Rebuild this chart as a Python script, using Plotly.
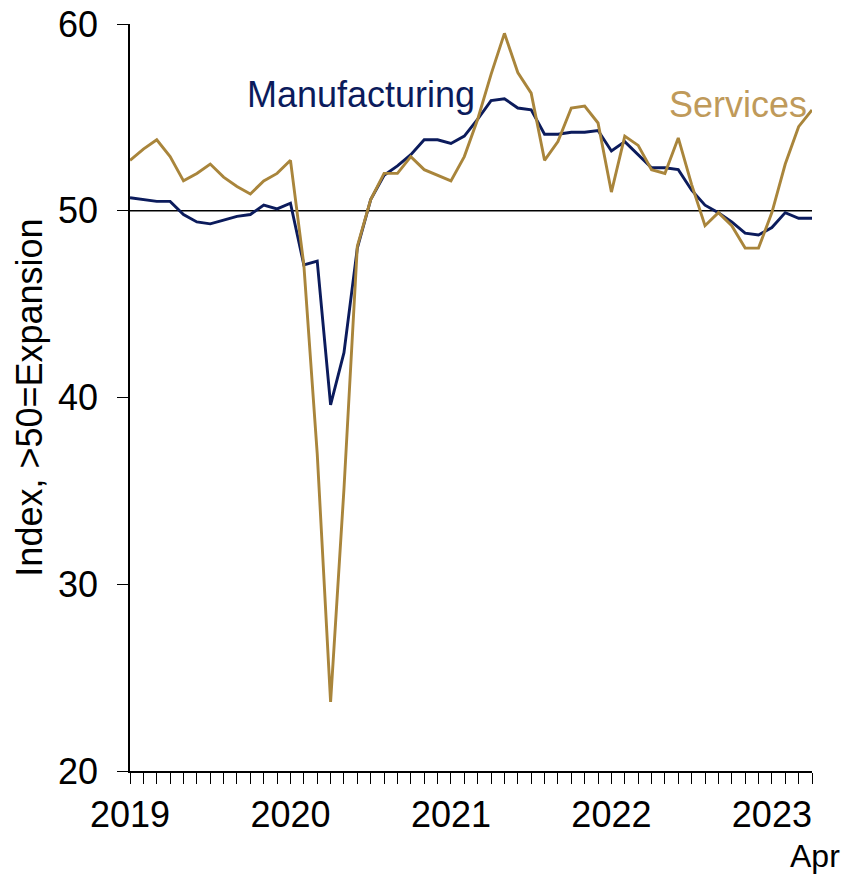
import plotly.graph_objects as go

months = [f"{y}-{m:02d}" for y in range(2019, 2024) for m in range(1, 13)][:52]

manufacturing = [
    50.7, 50.6, 50.5, 50.5, 49.8, 49.4, 49.3, 49.5, 49.7, 49.8, 50.3, 50.1,
    50.4, 47.1, 47.3, 39.6, 42.4, 48.0, 50.6, 51.9, 52.4, 53.0, 53.8, 53.8,
    53.6, 54.0, 54.9, 55.9, 56.0, 55.5, 55.4, 54.1, 54.1, 54.2, 54.2, 54.3,
    53.2, 53.7, 53.0, 52.3, 52.3, 52.2, 51.1, 50.3, 49.9, 49.4, 48.8, 48.7,
    49.1, 49.9, 49.6, 49.6,
]

services = [
    52.7, 53.3, 53.8, 52.9, 51.6, 52.0, 52.5, 51.8, 51.3, 50.9, 51.6, 52.0,
    52.7, 47.1, 37.0, 23.7, 35.1, 48.1, 50.6, 52.0, 52.0, 52.9, 52.2, 51.9,
    51.6, 52.9, 54.9, 57.3, 59.5, 57.4, 56.3, 52.7, 53.7, 55.5, 55.6, 54.7,
    51.0, 54.0, 53.5, 52.2, 52.0, 53.9, 51.4, 49.2, 49.9, 49.2, 48.0, 48.0,
    49.9, 52.5, 54.5, 55.4,
]

tick_text = [m[:4] if m.endswith("-01") else "" for m in months]
last_month_label = "Apr"
y_ticks = [20, 30, 40, 50, 60]

NAVY = "#0b1b5c"
GOLD = "#a9853b"
GOLD_LABEL = "#bf9a5a"
FONT = "Arial, Liberation Sans, sans-serif"
FS = 36

fig = go.Figure()
fig.add_trace(go.Scatter(x=months, y=manufacturing, mode="lines",
                         line=dict(color=NAVY, width=2.9), name="Manufacturing"))
fig.add_trace(go.Scatter(x=months, y=services, mode="lines",
                         line=dict(color=GOLD, width=2.9), name="Services"))

fig.add_shape(type="line", xref="paper", yref="y", x0=0, x1=1, y0=50, y1=50,
              line=dict(color="black", width=1.6), layer="below")

fig.add_annotation(text="Manufacturing", x=months[17], y=56.2, xref="x", yref="y",
                   showarrow=False, font=dict(family=FONT, size=FS, color=NAVY),
                   xanchor="center", yanchor="middle", xshift=4)
fig.add_annotation(text="Services", x=months[45], y=55.7, xref="x", yref="y",
                   showarrow=False, font=dict(family=FONT, size=FS, color=GOLD_LABEL),
                   xanchor="center", yanchor="middle", xshift=6)
fig.add_annotation(text=last_month_label, x=months[-1], y=0, xref="x", yref="paper",
                   showarrow=False, font=dict(family=FONT, size=32, color="black"),
                   xanchor="center", yanchor="middle", yshift=-85, xshift=3)

fig.update_layout(
    width=846, height=876,
    margin=dict(l=130, r=34, t=24, b=105),
    paper_bgcolor="white", plot_bgcolor="white",
    showlegend=False,
    font=dict(family=FONT, size=FS, color="black"),
    xaxis=dict(
        type="category", range=[0, len(months) - 1], automargin=False,
        tickmode="array", tickvals=months, ticktext=tick_text,
        ticks="outside", ticklen=11, tickwidth=1.4, tickcolor="black",
        showline=True, linecolor="black", linewidth=1.6,
        showgrid=False, zeroline=False, tickangle=0,
        tickfont=dict(family=FONT, size=FS, color="black"),
        ticklabelstandoff=0, ticklabeloverflow="allow",
    ),
    yaxis=dict(
        range=[20, 60], tickmode="array", tickvals=y_ticks, automargin=False,
        ticks="outside", ticklen=11, tickwidth=1.4, tickcolor="black",
        showline=True, linecolor="black", linewidth=1.6,
        showgrid=False, zeroline=False,
        tickfont=dict(family=FONT, size=FS, color="black"),
        ticklabelstandoff=12, ticklabeloverflow="allow",
        title=dict(text="Index, >50=Expansion", standoff=4,
                   font=dict(family=FONT, size=FS, color="black")),
    ),
)

fig.write_html(
    "out.html",
    config={"displayModeBar": False},
    post_script="document.body.style.margin='0';document.body.style.overflow='hidden';",
)
